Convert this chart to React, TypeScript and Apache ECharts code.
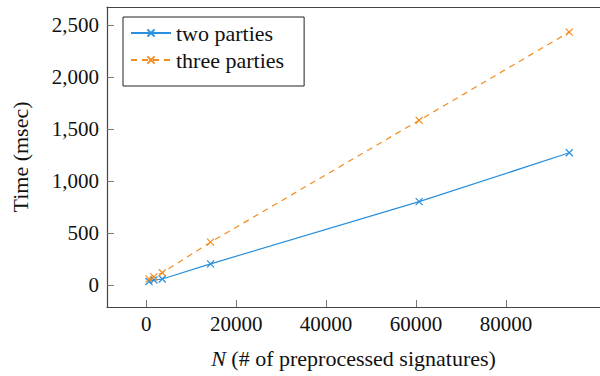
import React, { useEffect, useRef } from "react";
import * as echarts from "echarts";

const nValues = [600, 1700, 3550, 14300, 60700, 94100];
const twoParties = [38, 52, 62, 208, 805, 1275];
const threeParties = [64, 82, 122, 416, 1587, 2435];
const xTicks = [0, 20000, 40000, 60000, 80000];
const yTicks = [0, 500, 1000, 1500, 2000, 2500];

const FONT = "Liberation Serif";
const BLUE = "#2a8fdc";
const ORANGE = "#f28c1e";
const CROSS = "path://M0,0L10,10M10,0L0,10";
const AXIS_COLOR = "#444";

export default function App() {
  const ref = useRef<HTMLDivElement>(null);
  useEffect(() => {
    if (!ref.current) return;
    const chart = echarts.init(ref.current, null, { renderer: "svg" });
    const mk = (ys: number[]) => nValues.map((x, i) => [x, ys[i]]);
    const xMin = -8740;
    const xMax = 100934;
    chart.setOption({
      animation: false,
      textStyle: { fontFamily: FONT, fontSize: 21 },
      grid: { left: 107, top: 7, right: 0, bottom: 69, show: false },
      legend: {
        orient: "vertical",
        left: 123,
        top: 17,
        padding: [5, 20, 15, 7],
        itemGap: 5,
        itemWidth: 40,
        itemHeight: 9,
        backgroundColor: "#fff",
        borderColor: "#222",
        borderWidth: 1,
        borderRadius: 0,
        textStyle: { fontFamily: FONT, fontSize: 22, color: "#111" },
        data: ["two parties", "three parties"],
      },
      xAxis: [
        {
          type: "value",
          min: xMin,
          max: xMax,
          splitLine: { show: false },
          axisLine: { show: true, onZero: false, lineStyle: { color: AXIS_COLOR, width: 1.2 } },
          axisTick: { show: true, inside: true, length: 7, customValues: xTicks, lineStyle: { color: "#777" } },
          axisLabel: {
            customValues: xTicks,
            fontFamily: FONT,
            fontSize: 21,
            color: "#111",
            margin: 6,
            formatter: (v: number) => String(v),
          },
          name: "{i|N} (# of preprocessed signatures)",
          nameLocation: "middle",
          nameGap: 40,
          nameTextStyle: {
            fontFamily: FONT,
            fontSize: 22,
            color: "#111",
            rich: { i: { fontFamily: FONT, fontSize: 22, fontStyle: "italic", color: "#111" } },
          },
        },
        {
          type: "value",
          position: "top",
          min: xMin,
          max: xMax,
          splitLine: { show: false },
          axisLine: { show: true, onZero: false, lineStyle: { color: AXIS_COLOR, width: 1.2 } },
          axisTick: { show: false },
          axisLabel: { show: false },
        },
      ],
      yAxis: {
        type: "value",
        min: -207,
        max: 2676,
        splitLine: { show: false },
        axisLine: { show: true, onZero: false, lineStyle: { color: AXIS_COLOR, width: 1.2 } },
        axisTick: { show: true, inside: true, length: 7, customValues: yTicks, lineStyle: { color: "#777" } },
        axisLabel: {
          customValues: yTicks,
          fontFamily: FONT,
          fontSize: 21,
          color: "#111",
          margin: 8,
          formatter: (v: number) => v.toLocaleString("en-US"),
        },
        name: "Time (msec)",
        nameLocation: "middle",
        nameGap: 76,
        nameTextStyle: { fontFamily: FONT, fontSize: 22, color: "#111" },
      },
      series: [
        {
          name: "two parties",
          type: "line",
          xAxisIndex: 0,
          data: mk(twoParties),
          symbol: CROSS,
          symbolSize: 7,
          showSymbol: true,
          lineStyle: { color: BLUE, width: 1.2 },
          itemStyle: { color: BLUE, borderColor: BLUE, borderWidth: 1.2 },
        },
        {
          name: "three parties",
          type: "line",
          xAxisIndex: 0,
          data: mk(threeParties),
          symbol: CROSS,
          symbolSize: 7,
          showSymbol: true,
          lineStyle: { color: ORANGE, width: 1.2, type: [6, 5] },
          itemStyle: { color: ORANGE, borderColor: ORANGE, borderWidth: 1.2 },
        },
      ],
    });
    return () => chart.dispose();
  }, []);
  return <div ref={ref} style={{ width: 600, height: 376, position: "absolute", left: 0, top: 0 }} />;
}
